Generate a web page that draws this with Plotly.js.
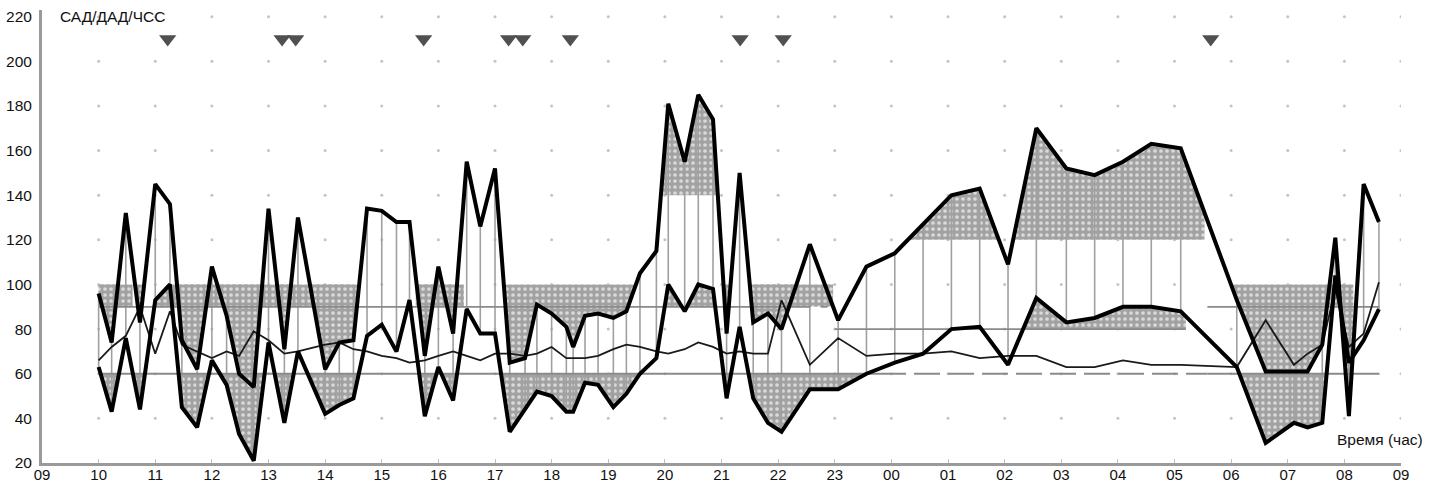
<!DOCTYPE html>
<html>
<head>
<meta charset="utf-8">
<script src="https://cdn.plot.ly/plotly-3.0.1.min.js"></script>
<style>html,body{margin:0;padding:0;background:#fff;}#chart{width:1429px;height:485px;}</style>
</head>
<body>
<div id="chart"></div>
<script>
// ---- measurement times (hours; values > 24 are the next morning) ----
const times = [10.0,10.23,10.48,10.73,11.0,11.26,11.47,11.74,12.0,12.26,
  12.48,12.74,13.0,13.28,13.52,14.0,14.25,14.5,14.74,15.0,
  15.26,15.49,15.76,16.0,16.26,16.5,16.74,17.0,17.26,17.53,
  17.74,18.0,18.26,18.38,18.59,18.82,19.09,19.32,19.56,19.85,
  20.06,20.35,20.59,20.85,21.09,21.32,21.56,21.82,22.06,22.56,
  23.06,23.56,24.06,24.56,25.06,25.56,26.06,26.56,27.09,27.59,
  28.09,28.59,29.11,30.1,30.61,31.11,31.35,31.61,31.84,32.08,
  32.34,32.61];
// systolic (САД)
const sbp = [96,74,132,83,145,136,75,62,108,86,
  60,54,134,71,130,62,74,75,134,133,
  128,128,68,108,78,155,126,152,65,67,
  91,87,81,72,86,87,85,88,105,115,
  181,155,185,174,78,150,83,87,80,118,
  84,108,114,127,140,143,109,170,152,149,
  155,163,161,93,61,61,61,73,121,41,
  145,128];
// diastolic (ДАД)
const dbp = [63,43,76,44,93,100,45,36,66,55,
  33,21,74,38,70,42,46,49,77,82,
  70,93,41,63,48,89,78,78,34,44,
  52,50,43,43,56,55,45,51,60,67,
  100,88,100,98,49,81,49,38,34,53,
  53,60,65,69,80,81,64,94,83,85,
  90,90,88,63,29,38,36,38,104,65,
  75,89];
// heart rate (ЧСС)
const hr = [66,72,77,90,69,88,73,70,67,70,
  68,79,75,69,70,73,74,71,70,68,
  67,65,66,68,70,68,66,69,69,68,
  69,72,67,67,67,68,71,73,72,70,
  69,71,74,72,69,70,69,69,93,64,
  76,68,69,69,70,67,68,68,63,63,
  66,64,64,63,84,64,69,73,98,72,
  78,101];

// event markers (triangles)
const eventTimes = [11.22,13.24,13.48,15.74,17.24,17.49,18.33,21.33,22.09,29.64];
const eventLevel = 210;

// thresholds and the periods in which they are shaded
const sbpLowThr = 100, sbpLowWin = [[10.0,22.97],[29.58,32.16]];
const dbpLowThr = 60,  dbpLowWin = [[10.0,23.6],[29.58,31.7]];
const sbpHighDayThr = 140, sbpHighDayWin = [[19.8,21.0]];
const sbpHighNightThr = 120, sbpHighNightWin = [[23.0,29.53]];
const dbpHighDayThr = 90, dbpHighDayWin = [[10.8,11.4],[19.9,21.0]];
const dbpHighNightThr = 80, dbpHighNightWin = [[23.0,29.2]];
const bandLow = 90, bandHigh = 100;
const bandSpans = [[10.0,10.6],[11.3,14.5],[15.6,16.45],[21.5,22.97],[31.7,32.0]];

// threshold lines
const solidLineY  = [90,90,60,80,60,90];
const solidLineX0 = [10.0,22.75,10.0,23.0,29.58,29.58];
const solidLineX1 = [22.57,22.87,23.8,29.2,32.62,32.62];
const dashLineY = [60], dashLineX0 = [23.8], dashLineX1 = [29.58];

// axis ticks
const xTickVals = [];
const xTickText = ['09','10','11','12','13','14','15','16','17','18','19','20','21','22','23','00','01','02','03','04','05','06','07','08','09'];
for (let i = 0; i < xTickText.length; i++) xTickVals.push(9 + i);
const yTickVals = [20,40,60,80,100,120,140,160,180,200,220];

// ---- helpers ----
function clipSeries(ts, vs, thr, a, b, above) {
  const xs = [], ys = [];
  const push = (x, y) => { xs.push(x); ys.push(above ? Math.max(y, thr) : Math.min(y, thr)); };
  for (let i = 0; i < ts.length - 1; i++) {
    const x0 = ts[i], y0 = vs[i], x1 = ts[i+1], y1 = vs[i+1];
    if (x1 <= a || x0 >= b) continue;
    const f = x => y0 + (y1 - y0) * (x - x0) / (x1 - x0);
    const s = Math.max(x0, a), e = Math.min(x1, b);
    if (xs.length === 0) push(s, f(s));
    if ((y0 - thr) * (y1 - thr) < 0) {
      const xc = x0 + (thr - y0) * (x1 - x0) / (y1 - y0);
      if (xc > s && xc < e) push(xc, thr);
    }
    push(e, f(e));
  }
  if (!xs.length) return null;
  return { x: xs.concat(xs.slice().reverse()), y: ys.concat(xs.map(() => thr)) };
}
const fillStyle = {
  type: 'scatter', mode: 'lines', line: {width: 0, color: 'rgba(0,0,0,0)'},
  fill: 'toself', fillcolor: '#a2a2a2',
  fillpattern: {shape: '.', bgcolor: '#a2a2a2', fgcolor: '#dadada', size: 6, solidity: 0.3},
  hoverinfo: 'skip', showlegend: false
};
const traces = [];

// dotted grid (dots at hour / 20-unit intersections)
const gx = [], gy = [];
for (let h = 10; h <= 33; h++) for (let v = 40; v <= 220; v += 20) { gx.push(h); gy.push(v); }
traces.push({type: 'scatter', mode: 'markers', x: gx, y: gy,
  marker: {size: 3, color: '#c4c4c4'}, hoverinfo: 'skip', showlegend: false});

// shaded regions
function addFill(vs, thr, wins, above) {
  wins.forEach(w => {
    const p = clipSeries(times, vs, thr, w[0], w[1], above);
    if (p) traces.push(Object.assign({}, fillStyle, {x: p.x, y: p.y}));
  });
}
bandSpans.forEach(s => {
  traces.push(Object.assign({}, fillStyle, {x: [s[0], s[1], s[1], s[0], s[0]], y: [bandHigh, bandHigh, bandLow, bandLow, bandHigh]}));
});
addFill(sbp, sbpLowThr, sbpLowWin, false);
addFill(dbp, dbpLowThr, dbpLowWin, false);
addFill(sbp, sbpHighDayThr, sbpHighDayWin, true);
addFill(sbp, sbpHighNightThr, sbpHighNightWin, true);
addFill(dbp, dbpHighDayThr, dbpHighDayWin, true);
addFill(dbp, dbpHighNightThr, dbpHighNightWin, true);

// vertical lines between SBP and DBP at each measurement
const vx = [], vy = [];
times.forEach((t, i) => { vx.push(t, t, null); vy.push(sbp[i], dbp[i], null); });
traces.push({type: 'scatter', mode: 'lines', x: vx, y: vy,
  line: {color: '#a0a0a0', width: 1.6}, hoverinfo: 'skip', showlegend: false});

// threshold lines
const lx = [], ly = [];
solidLineY.forEach((y, i) => { lx.push(solidLineX0[i], solidLineX1[i], null); ly.push(y, y, null); });
traces.push({type: 'scatter', mode: 'lines', x: lx, y: ly,
  line: {color: '#8a8a8a', width: 1.8}, hoverinfo: 'skip', showlegend: false});
const dx = [], dy = [];
dashLineY.forEach((y, i) => { dx.push(dashLineX0[i], dashLineX1[i], null); dy.push(y, y, null); });
traces.push({type: 'scatter', mode: 'lines', x: dx, y: dy,
  line: {color: '#8a8a8a', width: 1.8, dash: '26px,8px'}, hoverinfo: 'skip', showlegend: false});

// heart rate
traces.push({type: 'scatter', mode: 'lines', x: times, y: hr, name: 'ЧСС',
  line: {color: '#1a1a1a', width: 1.8}, showlegend: false});
// systolic and diastolic
traces.push({type: 'scatter', mode: 'lines', x: times, y: sbp, name: 'САД',
  line: {color: '#000', width: 4}, showlegend: false});
traces.push({type: 'scatter', mode: 'lines', x: times, y: dbp, name: 'ДАД',
  line: {color: '#000', width: 4}, showlegend: false});
// event triangles
traces.push({type: 'scatter', mode: 'markers', x: eventTimes, y: eventTimes.map(() => eventLevel),
  marker: {symbol: 'triangle-down', size: 15, color: '#505050'}, hoverinfo: 'skip', showlegend: false});

const font = {family: 'Liberation Sans, Arial, sans-serif', size: 15.5, color: '#111'};
const xfont = {family: 'Liberation Sans, Arial, sans-serif', size: 15, color: '#111'};
const layout = {
  width: 1429, height: 485,
  margin: {l: 42, r: 28, t: 10, b: 22, pad: 0},
  paper_bgcolor: '#fff', plot_bgcolor: '#fff',
  font: font, showlegend: false,
  xaxis: {range: [9, 33], tickvals: xTickVals, ticktext: xTickText,
    showgrid: false, zeroline: false, showline: true, linecolor: '#9a9a9a', linewidth: 3,
    ticks: 'inside', ticklen: 4, tickcolor: '#c0c0c0', tickwidth: 1, tickfont: xfont,
    ticklabelstandoff: -4},
  yaxis: {range: [20, 223], tickvals: yTickVals,
    showgrid: false, zeroline: false, showline: true, linecolor: '#9a9a9a', linewidth: 3,
    ticks: '', ticklabelstandoff: 4, tickfont: font},
  annotations: [
    {text: 'САД/ДАД/ЧСС', xref: 'paper', yref: 'y', x: 16/1359, y: 220,
     xanchor: 'left', yanchor: 'middle', showarrow: false, font: font},
    {text: 'Время (час)', xref: 'paper', yref: 'y', x: (1425-42)/1359, y: 30.5,
     xanchor: 'right', yanchor: 'middle', showarrow: false, font: font}
  ]
};
Plotly.newPlot('chart', traces, layout, {displayModeBar: false, staticPlot: true});
</script>
</body>
</html>
